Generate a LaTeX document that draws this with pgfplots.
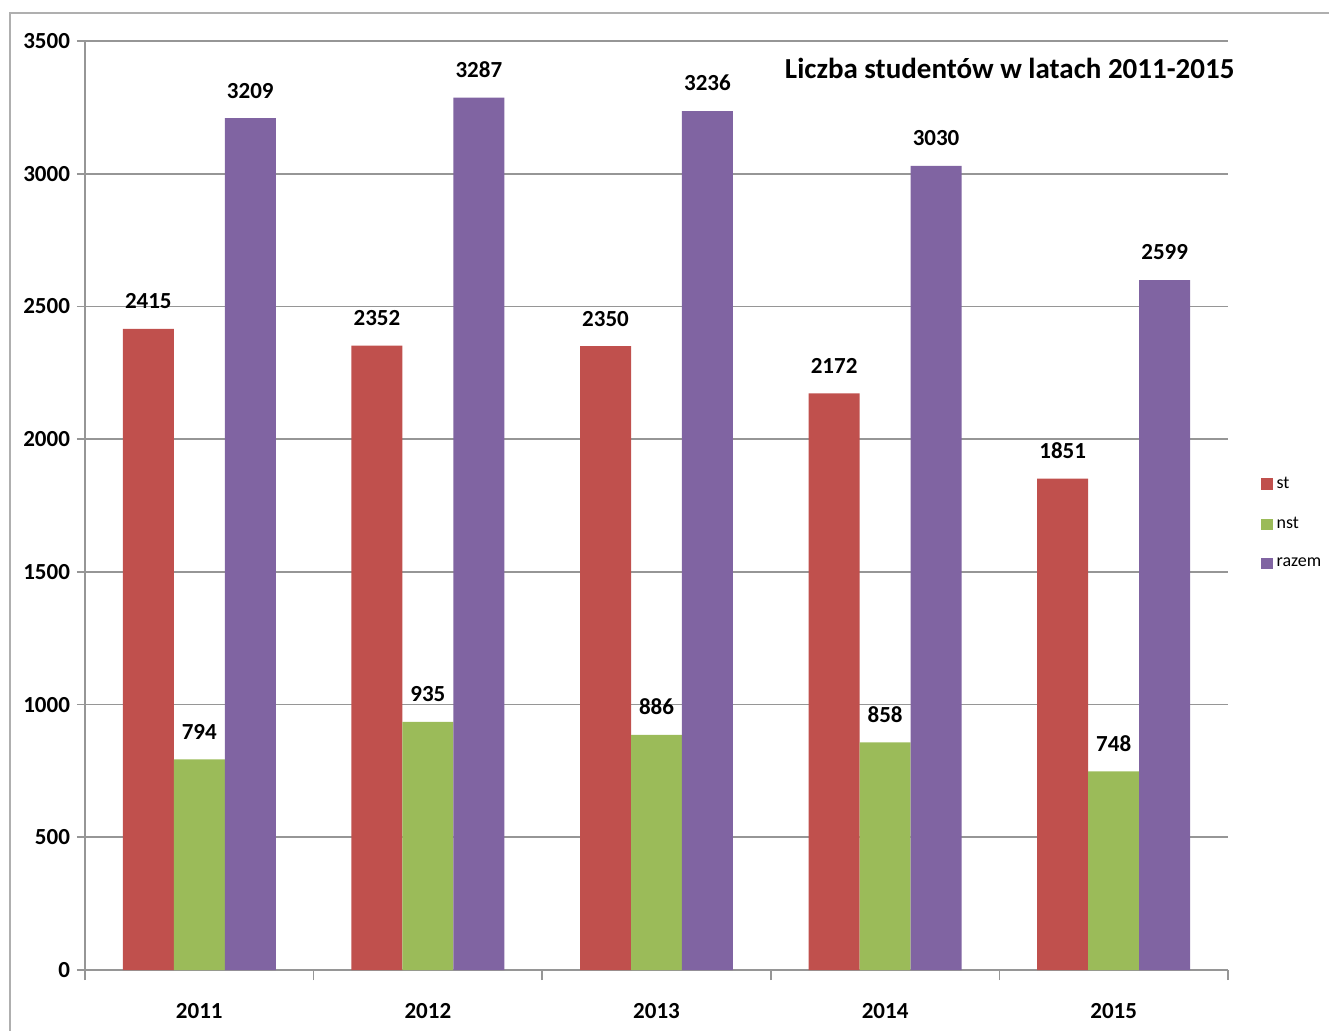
\documentclass[border=0pt]{standalone}
\usepackage{fontspec}
\setmainfont{Carlito}
\usepackage{pgfplots}
\pgfplotsset{compat=1.18}
\definecolor{cst}{HTML}{C0504D}
\definecolor{cnst}{HTML}{9BBB59}
\definecolor{craz}{HTML}{8064A2}
\definecolor{gridc}{RGB}{150,150,150}
\definecolor{framec}{RGB}{175,175,175}
\begin{document}
\begin{tikzpicture}
\useasboundingbox (0,0) rectangle (664.5pt,515pt);
\draw[framec, line width=1pt] (5pt,-5pt) -- (5pt,508.5pt) -- (680pt,508.5pt);
\begin{axis}[
  at={(42.5pt,30pt)}, anchor=south west,
  width=571.5pt, height=464.5pt, scale only axis,
  ybar, bar width=0.223,
  xmin=-0.5, xmax=4.5, ymin=0, ymax=3500,
  xtick={0,1,2,3,4}, xticklabels={2011,2012,2013,2014,2015},
  minor xtick={-0.5,0.5,1.5,2.5,3.5,4.5},
  ytick={0,500,...,3500},
  axis x line*=bottom, axis y line*=left,
  axis line style={gridc, line width=0.8pt},
  tick align=outside,
  major tick length=4pt, minor tick length=5pt,
  major x tick style={draw=none},
  minor x tick style={gridc, line width=0.8pt},
  ytick style={gridc, line width=0.8pt},
  ymajorgrids, major grid style={gridc, line width=0.8pt},
  /pgf/number format/1000 sep={},
  /pgf/number format/assume math mode=true,
  ticklabel style={font=\bfseries\fontsize{11.5}{13}\selectfont},
  xticklabel style={yshift=-9pt},
  nodes near coords,
  every node near coord/.append style={font=\bfseries\fontsize{11.5}{13}\selectfont, text=black, yshift=6.5pt},
  legend style={draw=none, fill=none, at={(1.0236,0.481)}, anchor=west,
    font=\fontsize{9}{11}\selectfont, row sep=9pt,
    /tikz/every even column/.append style={column sep=1pt}},
  legend cell align=left,
  clip=false,
]
\addplot[fill=cst, draw=none, bar shift=-0.223,
  legend image code/.code={\fill[cst] (0pt,-2.8pt) rectangle (5.6pt,2.8pt);}]
  coordinates {(0,2415) (1,2352) (2,2350) (3,2172) (4,1851)};
\addplot[fill=cnst, draw=none, bar shift=0,
  legend image code/.code={\fill[cnst] (0pt,-2.8pt) rectangle (5.6pt,2.8pt);}]
  coordinates {(0,794) (1,935) (2,886) (3,858) (4,748)};
\addplot[fill=craz, draw=none, bar shift=0.223,
  legend image code/.code={\fill[craz] (0pt,-2.8pt) rectangle (5.6pt,2.8pt);}]
  coordinates {(0,3209) (1,3287) (2,3236) (3,3030) (4,2599)};
\legend{st,nst,razem}
\node[font=\bfseries\fontsize{14.5}{17}\selectfont, anchor=center] at (rel axis cs:0.809,0.971) {Liczba studentów w latach 2011-2015};
\end{axis}
\end{tikzpicture}
\end{document}
